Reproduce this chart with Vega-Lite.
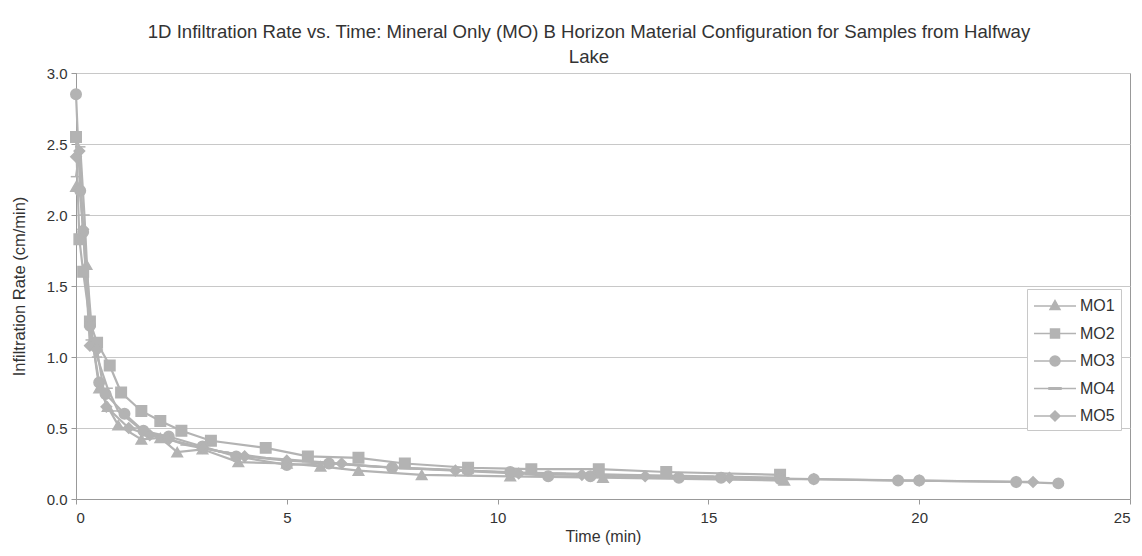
{
  "$schema": "https://vega.github.io/schema/vega-lite/v6.json",
  "width": 1054,
  "height": 426,
  "autosize": {"type": "none"},
  "padding": {"left": 76, "top": 73, "right": 12, "bottom": 57},
  "background": "white",
  "title": {
    "text": ["1D Infiltration Rate vs. Time: Mineral Only (MO) B Horizon Material Configuration for Samples from Halfway", "Lake"],
    "font": "Liberation Sans",
    "fontSize": 18.6,
    "fontWeight": "normal",
    "color": "#333333",
    "lineHeight": 25,
    "anchor": "middle",
    "dx": -14,
    "offset": -1
  },
  "data": {
    "values": [
      {"series": "MO1", "t": 0.0, "v": 2.2},
      {"series": "MO1", "t": 0.08, "v": 2.2},
      {"series": "MO1", "t": 0.25, "v": 1.65},
      {"series": "MO1", "t": 0.4, "v": 1.1},
      {"series": "MO1", "t": 0.55, "v": 0.78},
      {"series": "MO1", "t": 0.75, "v": 0.65},
      {"series": "MO1", "t": 1.0, "v": 0.52},
      {"series": "MO1", "t": 1.55, "v": 0.42},
      {"series": "MO1", "t": 2.0, "v": 0.43},
      {"series": "MO1", "t": 2.4, "v": 0.33},
      {"series": "MO1", "t": 3.0, "v": 0.35},
      {"series": "MO1", "t": 3.85, "v": 0.26},
      {"series": "MO1", "t": 5.0, "v": 0.25},
      {"series": "MO1", "t": 5.8, "v": 0.23},
      {"series": "MO1", "t": 6.7, "v": 0.2},
      {"series": "MO1", "t": 8.2, "v": 0.17},
      {"series": "MO1", "t": 10.3, "v": 0.16},
      {"series": "MO1", "t": 12.5, "v": 0.15},
      {"series": "MO1", "t": 16.8, "v": 0.13},
      {"series": "MO2", "t": 0.0, "v": 2.55},
      {"series": "MO2", "t": 0.08, "v": 1.83},
      {"series": "MO2", "t": 0.17, "v": 1.6},
      {"series": "MO2", "t": 0.33, "v": 1.25},
      {"series": "MO2", "t": 0.5, "v": 1.1},
      {"series": "MO2", "t": 0.8, "v": 0.94},
      {"series": "MO2", "t": 1.07, "v": 0.75},
      {"series": "MO2", "t": 1.55, "v": 0.62},
      {"series": "MO2", "t": 2.0, "v": 0.55},
      {"series": "MO2", "t": 2.5, "v": 0.48},
      {"series": "MO2", "t": 3.2, "v": 0.41},
      {"series": "MO2", "t": 4.5, "v": 0.36},
      {"series": "MO2", "t": 5.5, "v": 0.3},
      {"series": "MO2", "t": 6.7, "v": 0.29},
      {"series": "MO2", "t": 7.8, "v": 0.25},
      {"series": "MO2", "t": 9.3, "v": 0.22},
      {"series": "MO2", "t": 10.8, "v": 0.21},
      {"series": "MO2", "t": 12.4, "v": 0.21},
      {"series": "MO2", "t": 14.0, "v": 0.19},
      {"series": "MO2", "t": 16.7, "v": 0.17},
      {"series": "MO3", "t": 0.0, "v": 2.85},
      {"series": "MO3", "t": 0.1, "v": 2.17},
      {"series": "MO3", "t": 0.17, "v": 1.88},
      {"series": "MO3", "t": 0.33, "v": 1.22},
      {"series": "MO3", "t": 0.55, "v": 0.82},
      {"series": "MO3", "t": 0.7, "v": 0.74},
      {"series": "MO3", "t": 1.15, "v": 0.6},
      {"series": "MO3", "t": 1.6, "v": 0.48},
      {"series": "MO3", "t": 2.2, "v": 0.44},
      {"series": "MO3", "t": 3.0, "v": 0.37},
      {"series": "MO3", "t": 3.8, "v": 0.3},
      {"series": "MO3", "t": 5.0, "v": 0.24},
      {"series": "MO3", "t": 6.0, "v": 0.25},
      {"series": "MO3", "t": 7.5, "v": 0.22},
      {"series": "MO3", "t": 9.3, "v": 0.2},
      {"series": "MO3", "t": 10.3, "v": 0.19},
      {"series": "MO3", "t": 11.2, "v": 0.16},
      {"series": "MO3", "t": 12.2, "v": 0.16},
      {"series": "MO3", "t": 14.3, "v": 0.15},
      {"series": "MO3", "t": 15.3, "v": 0.15},
      {"series": "MO3", "t": 16.7, "v": 0.14},
      {"series": "MO3", "t": 17.5, "v": 0.14},
      {"series": "MO3", "t": 19.5, "v": 0.13},
      {"series": "MO3", "t": 20.0, "v": 0.13},
      {"series": "MO3", "t": 22.3, "v": 0.12},
      {"series": "MO3", "t": 23.3, "v": 0.11},
      {"series": "MO4", "t": 0.0, "v": 2.27},
      {"series": "MO4", "t": 0.1, "v": 2.48},
      {"series": "MO4", "t": 0.2, "v": 2.0},
      {"series": "MO4", "t": 0.35, "v": 1.12},
      {"series": "MO4", "t": 0.5, "v": 1.0},
      {"series": "MO4", "t": 0.75, "v": 0.78},
      {"series": "MO4", "t": 1.0, "v": 0.62},
      {"series": "MO4", "t": 1.5, "v": 0.5},
      {"series": "MO4", "t": 2.0, "v": 0.44},
      {"series": "MO4", "t": 2.6, "v": 0.38},
      {"series": "MO4", "t": 3.5, "v": 0.33},
      {"series": "MO4", "t": 4.5, "v": 0.29},
      {"series": "MO4", "t": 5.8, "v": 0.26},
      {"series": "MO4", "t": 7.0, "v": 0.23},
      {"series": "MO4", "t": 8.5, "v": 0.21},
      {"series": "MO4", "t": 10.0, "v": 0.19},
      {"series": "MO4", "t": 11.5, "v": 0.18},
      {"series": "MO4", "t": 13.0, "v": 0.17},
      {"series": "MO4", "t": 15.0, "v": 0.16},
      {"series": "MO4", "t": 16.8, "v": 0.15},
      {"series": "MO5", "t": 0.0, "v": 2.41},
      {"series": "MO5", "t": 0.08, "v": 2.45},
      {"series": "MO5", "t": 0.17, "v": 1.9},
      {"series": "MO5", "t": 0.33, "v": 1.08},
      {"series": "MO5", "t": 0.5, "v": 1.05},
      {"series": "MO5", "t": 0.72, "v": 0.65},
      {"series": "MO5", "t": 1.25, "v": 0.5},
      {"series": "MO5", "t": 1.75, "v": 0.45},
      {"series": "MO5", "t": 2.2, "v": 0.42},
      {"series": "MO5", "t": 3.0, "v": 0.36},
      {"series": "MO5", "t": 4.0, "v": 0.3},
      {"series": "MO5", "t": 5.0, "v": 0.27},
      {"series": "MO5", "t": 6.3, "v": 0.25},
      {"series": "MO5", "t": 7.5, "v": 0.22},
      {"series": "MO5", "t": 9.0, "v": 0.2},
      {"series": "MO5", "t": 10.5, "v": 0.18},
      {"series": "MO5", "t": 12.0, "v": 0.17},
      {"series": "MO5", "t": 13.5, "v": 0.16},
      {"series": "MO5", "t": 15.5, "v": 0.15},
      {"series": "MO5", "t": 17.5, "v": 0.14},
      {"series": "MO5", "t": 20.0, "v": 0.13},
      {"series": "MO5", "t": 22.3, "v": 0.12},
      {"series": "MO5", "t": 22.7, "v": 0.12}
    ]
  },
  "encoding": {
    "x": {
      "field": "t", "type": "quantitative",
      "scale": {"domain": [0, 25], "nice": false, "zero": false},
      "axis": {"title": "Time (min)", "values": [0, 5, 10, 15, 20, 25], "grid": false, "tickSize": 5, "tickColor": "#999999", "domainColor": "#999999", "labelFont": "Liberation Sans", "labelFontSize": 15, "labelColor": "#333333", "titleFont": "Liberation Sans", "titleFontSize": 16, "titleFontWeight": "normal", "titleColor": "#333333", "titlePadding": 3, "labelPadding": 6}
    },
    "y": {
      "field": "v", "type": "quantitative",
      "scale": {"domain": [0, 3], "nice": false},
      "axis": {"title": "Infiltration Rate (cm/min)", "values": [0, 0.5, 1, 1.5, 2, 2.5, 3], "format": ".1f", "grid": true, "gridColor": "#c8c8c8", "tickSize": 5, "tickColor": "#999999", "domainColor": "#999999", "labelFont": "Liberation Sans", "labelFontSize": 15, "labelColor": "#333333", "titleFont": "Liberation Sans", "titleFontSize": 16.5, "titleFontWeight": "normal", "titleColor": "#333333", "titlePadding": 19, "labelPadding": 4}
    }
  },
  "layer": [
    {
      "mark": {"type": "line", "strokeWidth": 2.2, "color": "#b3b3b3"},
      "encoding": {"detail": {"field": "series"}}
    },
    {
      "mark": {"type": "point", "filled": true, "opacity": 1, "fill": "#b3b3b3", "stroke": "#b3b3b3", "strokeWidth": 1.5},
      "encoding": {
        "shape": {
          "field": "series", "type": "nominal",
          "scale": {"domain": ["MO1", "MO2", "MO3", "MO4", "MO5"], "range": ["triangle-up", "square", "circle", "stroke", "diamond"]},
          "legend": null
        },
        "size": {"value": 110}
      }
    },
    {
      "mark": {"type": "point", "filled": true, "opacity": 0, "fill": "#b3b3b3", "stroke": "#b3b3b3"},
      "encoding": {
        "shape": {
          "field": "series", "type": "nominal",
          "scale": {"domain": ["MO1", "MO2", "MO3", "MO4", "MO5"], "range": [
            "M-2.1,0H2.1M0,-0.55L0.5,0.35L-0.5,0.35Z",
            "M-2.1,0H2.1M-0.45,-0.45H0.45V0.45H-0.45Z",
            "M-2.1,0H2.1M-0.5,0A0.5,0.5 0 1,0 0.5,0A0.5,0.5 0 1,0 -0.5,0Z",
            "M-2.1,0H2.1M-0.6,-0.08H0.6V0.08H-0.6Z",
            "M-2.1,0H2.1M0,-0.5L0.5,0L0,0.5L-0.5,0Z"
          ]},
          "legend": {
            "title": null,
            "orient": "none",
            "legendX": 951,
            "legendY": 216,
            "fillColor": "white",
            "strokeColor": "#c8c8c8",
            "padding": 6,
            "rowPadding": 8.5,
            "symbolSize": 400,
            "symbolOffset": 11,
            "symbolOpacity": 1,
            "labelFont": "Liberation Sans",
            "labelFontSize": 16,
            "labelColor": "#333333",
            "labelOffset": 14,
            "encode": {
              "symbols": {
                "update": {
                  "stroke": {"value": "#b3b3b3"},
                  "strokeWidth": {"value": 2},
                  "fill": {"value": "#b3b3b3"},
                  "opacity": {"value": 1}
                }
              }
            }
          }
        },
        "size": {"value": 1}
      }
    }
  ],
  "resolve": {"scale": {"shape": "independent"}},
  "config": {
    "view": {"stroke": "#999999", "strokeWidth": 1}
  }
}
